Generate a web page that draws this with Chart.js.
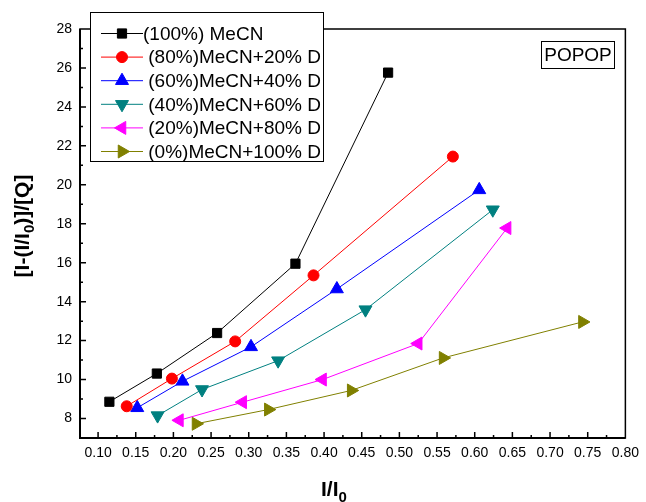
<!DOCTYPE html>
<html lang="en">
<head>
    <meta charset="UTF-8">
    <title>POPOP</title>
    <style>
        html, body { margin: 0; padding: 0; background: #fff; }
        canvas { display: block; }
    </style>
</head>
<body>
    <canvas id="myChart" width="646" height="502"></canvas>

    <script src="https://cdn.jsdelivr.net/npm/chart.js"></script>
    <script>
        // series names (as in the legend)
        const seriesLabels = [
            "(100%) MeCN",
            " (80%)MeCN+20% D",
            " (60%)MeCN+40% D",
            " (40%)MeCN+60% D",
            " (20%)MeCN+80% D",
            " (0%)MeCN+100% D"
        ];

        // I/I0 values
        const x100 = [0.115, 0.178, 0.258, 0.362, 0.485];
        const x80  = [0.138, 0.198, 0.282, 0.386, 0.571];
        const x60  = [0.152, 0.212, 0.303, 0.417, 0.606];
        const x40  = [0.179, 0.238, 0.339, 0.455, 0.624];
        const x20  = [0.208, 0.292, 0.398, 0.525, 0.643];
        const x0   = [0.230, 0.326, 0.436, 0.558, 0.743];

        // [I-(I/I0)]/[Q] values
        const y100 = [8.86, 10.31, 12.39, 15.95, 25.76];
        const y80  = [8.63, 10.05, 11.96, 15.35, 21.45];
        const y60  = [8.55, 9.91, 11.68, 14.65, 19.74];
        const y40  = [8.15, 9.49, 10.97, 13.59, 18.72];
        const y20  = [7.91, 8.84, 10.00, 11.85, 17.78];
        const y0   = [7.73, 8.46, 9.44, 11.11, 12.96];

        const xTicks = [0.10, 0.15, 0.20, 0.25, 0.30, 0.35, 0.40, 0.45, 0.50, 0.55, 0.60, 0.65, 0.70, 0.75, 0.80];
        const yTicks = [8, 10, 12, 14, 16, 18, 20, 22, 24, 26, 28];

        const xs = [x100, x80, x60, x40, x20, x0];
        const ys = [y100, y80, y60, y40, y20, y0];
        const colors = ['#000000', '#ff0000', '#0000ff', '#008080', '#ff00ff', '#808000'];
        const styles = [
            { pointStyle: 'rect', rotation: 0, radius: 6.5 },
            { pointStyle: 'circle', rotation: 0, radius: 5.5 },
            { pointStyle: 'triangle', rotation: 0, radius: 7.5 },
            { pointStyle: 'triangle', rotation: 180, radius: 7.5 },
            { pointStyle: 'triangle', rotation: 270, radius: 7.5 },
            { pointStyle: 'triangle', rotation: 90, radius: 7.5 }
        ];

        const datasets = seriesLabels.map((label, i) => ({
            label: label,
            data: xs[i].map((x, j) => ({ x: x, y: ys[i][j] })),
            showLine: true,
            borderColor: colors[i],
            backgroundColor: colors[i],
            borderWidth: 1,
            pointStyle: styles[i].pointStyle,
            rotation: styles[i].rotation,
            pointRadius: styles[i].radius,
            pointBackgroundColor: colors[i],
            pointBorderColor: colors[i],
            pointBorderWidth: 1,
            tension: 0
        }));

        const FONT = 'Arial, "Liberation Sans", sans-serif';

        // frame, inward ticks, legend box, label box and axis titles
        const decorations = {
            id: 'decorations',
            afterDraw(chart) {
                const ctx = chart.ctx;
                const a = chart.chartArea;
                const xs_ = chart.scales.x, ys_ = chart.scales.y;
                ctx.save();

                // frame
                ctx.strokeStyle = '#000';
                ctx.lineWidth = 1.5;
                ctx.strokeRect(a.left, a.top, a.right - a.left, a.bottom - a.top);
                ctx.lineWidth = 2;
                ctx.beginPath();
                ctx.moveTo(a.left, a.top);
                ctx.lineTo(a.left, a.bottom);
                ctx.lineTo(a.right, a.bottom);
                ctx.stroke();

                // ticks pointing into the plot
                ctx.lineWidth = 1.5;
                ctx.beginPath();
                for (let v = 0.075; v <= 0.8001; v += 0.025) {
                    const px = xs_.getPixelForValue(v);
                    if (px < a.left + 1 || px > a.right - 1) continue;
                    const major = Math.abs(Math.round(v / 0.05) * 0.05 - v) < 1e-6;
                    ctx.moveTo(px, a.bottom);
                    ctx.lineTo(px, a.bottom - (major ? 6 : 3));
                }
                for (let v = 8; v < 28; v += 1) {
                    const py = ys_.getPixelForValue(v);
                    const major = v % 2 === 0;
                    ctx.moveTo(a.left, py);
                    ctx.lineTo(a.left + (major ? 6 : 3), py);
                }
                ctx.stroke();

                // legend
                ctx.fillStyle = '#fff';
                ctx.fillRect(90, 12, 234, 150);
                ctx.strokeStyle = '#000';
                ctx.lineWidth = 1;
                ctx.strokeRect(90.5, 12.5, 233, 149);
                ctx.font = '19px ' + FONT;
                ctx.textBaseline = 'middle';
                ctx.textAlign = 'left';
                seriesLabels.forEach((label, i) => {
                    const yy = 33.5 + i * 23.6;
                    ctx.strokeStyle = colors[i];
                    ctx.fillStyle = colors[i];
                    ctx.lineWidth = 1;
                    ctx.beginPath();
                    ctx.moveTo(101, yy);
                    ctx.lineTo(143, yy);
                    ctx.stroke();
                    Chart.helpers.drawPoint(ctx, {
                        pointStyle: styles[i].pointStyle,
                        rotation: styles[i].rotation,
                        radius: styles[i].radius,
                        borderWidth: 1
                    }, 122, yy);
                    ctx.fillStyle = '#000';
                    ctx.fillText(label, 143, yy + 1);
                });

                // POPOP box
                ctx.strokeStyle = '#000';
                ctx.lineWidth = 1;
                ctx.strokeRect(541.5, 41.5, 73, 27);
                ctx.fillStyle = '#000';
                ctx.font = '19px ' + FONT;
                ctx.textAlign = 'center';
                ctx.fillText('POPOP', 578, 56);

                // x title: I/I0
                ctx.textAlign = 'left';
                ctx.textBaseline = 'alphabetic';
                ctx.font = 'bold 21px ' + FONT;
                ctx.fillText('I/I', 321, 496);
                const w1 = ctx.measureText('I/I').width;
                ctx.font = 'bold 15px ' + FONT;
                ctx.fillText('0', 321 + w1, 502);

                // y title: [I-(I/I0)]/[Q]
                ctx.translate(29, 226);
                ctx.rotate(-Math.PI / 2);
                ctx.font = 'bold 21px ' + FONT;
                const p1 = '[I-(I/I', p3 = ')]/[Q]';
                const wa = ctx.measureText(p1).width;
                const wc = ctx.measureText(p3).width;
                ctx.font = 'bold 15px ' + FONT;
                const wb = ctx.measureText('0').width;
                let sx = -(wa + wb + wc) / 2;
                ctx.font = 'bold 21px ' + FONT;
                ctx.fillText(p1, sx, 0);
                ctx.font = 'bold 15px ' + FONT;
                ctx.fillText('0', sx + wa, 5);
                ctx.font = 'bold 21px ' + FONT;
                ctx.fillText(p3, sx + wa + wb, 0);

                ctx.restore();
            }
        };

        const ctx = document.getElementById('myChart').getContext('2d');
        const chart = new Chart(ctx, {
            type: 'scatter',
            data: { datasets: datasets },
            options: {
                responsive: false,
                animation: false,
                devicePixelRatio: 1,
                layout: { padding: { top: 29, right: 16, left: 0, bottom: 0 } },
                plugins: {
                    legend: { display: false },
                    tooltip: { enabled: false }
                },
                scales: {
                    x: {
                        type: 'linear',
                        min: 0.076,
                        max: 0.80,
                        grid: { display: false, drawTicks: false },
                        border: { display: false },
                        afterBuildTicks: s => { s.ticks = xTicks.map(v => ({ value: v })); },
                        afterFit: s => { s.height = 64; },
                        ticks: {
                            color: '#000',
                            font: { family: FONT, size: 14 },
                            padding: 7,
                            maxRotation: 0,
                            autoSkip: false,
                            callback: v => v.toFixed(2)
                        }
                    },
                    y: {
                        type: 'linear',
                        min: 7,
                        max: 28,
                        grid: { display: false, drawTicks: false },
                        border: { display: false },
                        afterBuildTicks: s => { s.ticks = yTicks.map(v => ({ value: v })); },
                        afterFit: s => { s.width = 80; },
                        ticks: {
                            color: '#000',
                            font: { family: FONT, size: 14 },
                            padding: 8,
                            autoSkip: false,
                            callback: v => String(v)
                        }
                    }
                }
            },
            plugins: [decorations]
        });
    </script>
</body>
</html>
